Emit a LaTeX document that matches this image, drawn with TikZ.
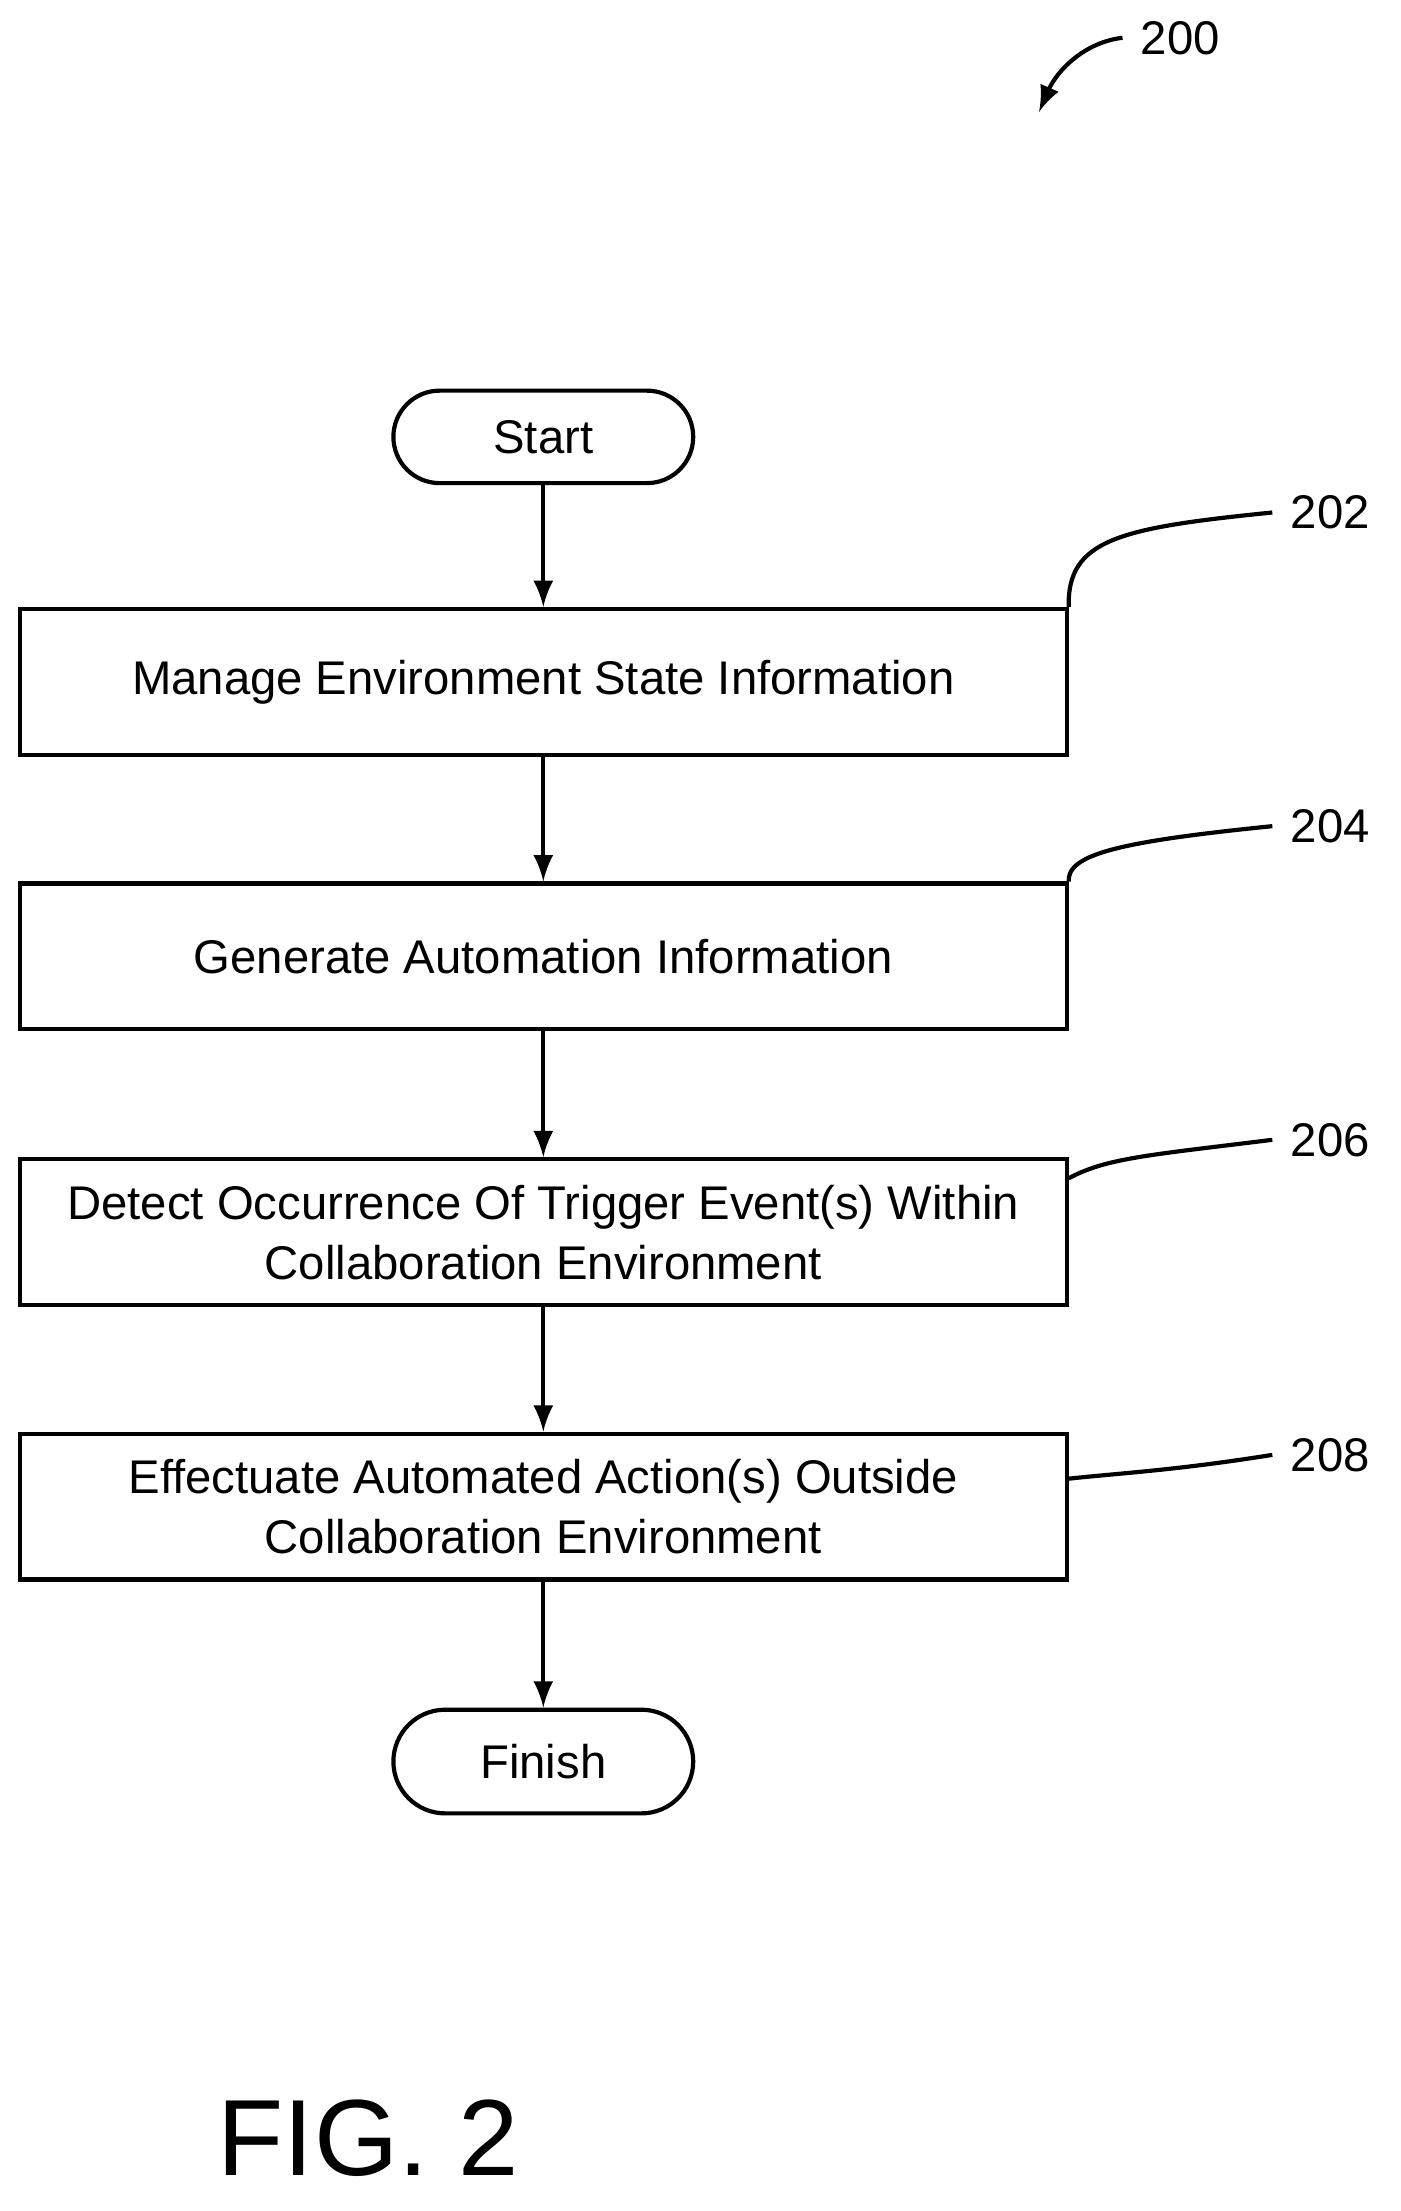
\documentclass[tikz,border=0pt]{standalone}
\usepackage{fontspec}
\setmainfont{Liberation Sans}
\usetikzlibrary{positioning}
\begin{document}
\begin{tikzpicture}[x=0.01cm,y=-0.01cm,line width=0.85pt,>=latex,
	box/.style={draw,minimum width=7.47cm,minimum height=1.04cm,align=center,font=\fontsize{9.6}{12.2}\selectfont},
	term/.style={draw,rounded corners=0.33cm,minimum width=2.14cm,minimum height=0.66cm,font=\fontsize{9.6}{12}\selectfont},
	ref/.style={font=\fontsize{9.6}{12}\selectfont}]
		\useasboundingbox (0,0) rectangle (1000,1579);

		% start, steps and finish
		\node[term] (start) at (388,312) {Start};
		\node[box] (manage) at (388,487) {Manage Environment State Information};
		\node[box] (generate) at (388,683) {Generate Automation Information};
		\node[box] (detect) at (388,880) {Detect Occurrence Of Trigger Event(s) Within\\Collaboration Environment};
		\node[box] (effect) at (388,1076) {Effectuate Automated Action(s) Outside\\Collaboration Environment};
		\node[term,minimum height=0.74cm,rounded corners=0.37cm] (finish) at (388,1258) {Finish};

		% arrows between the steps
		\foreach \a/\b in {start/manage,manage/generate,generate/detect,detect/effect,effect/finish}
			\draw[->] (\a) -- (\b);

		% reference numerals
		\node[ref] (r202) at (950,366) {202};
		\node[ref] (r204) at (950,590) {204};
		\node[ref] (r206) at (950,814) {206};
		\node[ref] (r208) at (950,1039) {208};
		\draw (manage.north east) .. controls (762,385) and (800,377) .. (r202.west);
		\draw (generate.north east) .. controls (762,610) and (800,601) .. (r204.west);
		\draw (detect.north east) ++(0,15) .. controls (790,827) and (820,825) .. (r206.west);
		\draw (effect.east) ++(0,-20) .. controls (800,1052) and (840,1050) .. (r208.west);

		% figure numeral
		\node[ref] (r200) at (843,27) {200};
		\draw[->] (r200.west) .. controls (775,30) and (755,50) .. (742,80);

		\node[font=\fontsize{22}{26}\selectfont] (fig) at (263,1527) {FIG. 2};
	\end{tikzpicture}
\end{document}
